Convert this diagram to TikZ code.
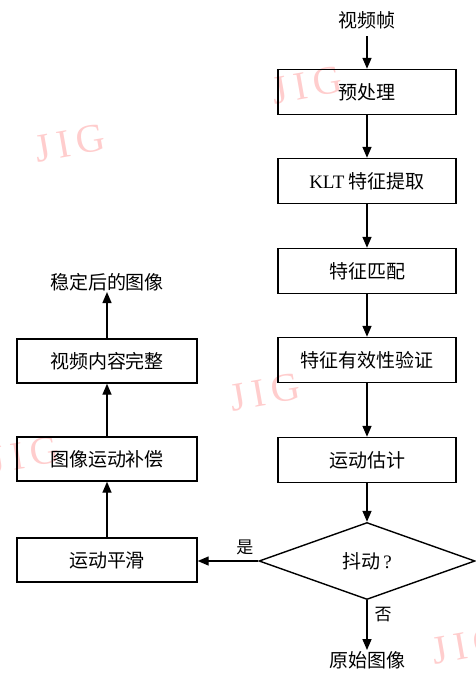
\documentclass[tikz,border=0pt]{standalone}
\usepackage{fontspec}
\setmainfont{Liberation Serif}
\newfontfamily\cjk{Noto Sans CJK SC}
\usetikzlibrary{arrows.meta,shapes.geometric}
\definecolor{wmc}{RGB}{255,205,205}
\begin{document}
\begin{tikzpicture}[x=1pt,y=-1pt,
  box/.style={draw, line width=1.4pt, minimum width=178pt, minimum height=45pt, inner sep=0pt, font=\fontsize{19}{19}\selectfont\cjk},
  lbox/.style={box, minimum width=180pt, minimum height=44pt},
  txt/.style={inner sep=1pt, font=\fontsize{19}{19}\selectfont\cjk},
  lab/.style={inner sep=1pt, font=\fontsize{17}{17}\selectfont\cjk},
  arr/.style={line width=1.4pt, -{Triangle[length=11pt,width=9pt]}},
  wm/.style={text=wmc, rotate=10, inner sep=0pt, font=\fontsize{40}{40}\selectfont}]
\useasboundingbox (0,0) rectangle (475,673);
% watermarks
\node[wm] (w1) at (70,143) {J\,I\,G};
\node[wm] (w2) at (307,85) {J\,I\,G};
\node[wm] (w3) at (265,392) {J\,I\,G};
\node[wm] (w4) at (24,455) {J\,I\,G};
\node[wm] (w5) at (467,645) {J\,I\,G};
% right column
\node[txt] (t0) at (367,20) {视频帧};
\node[box] (b1) at (367,92) {预处理};
\node[box] (b2) at (367,181) {{\rmfamily KLT} 特征提取};
\node[box] (b3) at (367,271) {特征匹配};
\node[box] (b4) at (367,360) {特征有效性验证};
\node[box] (b5) at (367,460) {运动估计};
\node[draw, line width=1.4pt, diamond, minimum width=216pt, minimum height=77pt, aspect=2.8, inner sep=0pt, font=\fontsize{19}{19}\selectfont\cjk] (d) at (367,561) {抖动{\rmfamily\,?}};
\node[txt] (t1) at (367,660) {原始图像};
% left column
\node[lbox] (l3) at (107,560) {运动平滑};
\node[lbox] (l2) at (107,459) {图像运动补偿};
\node[lbox] (l1) at (107,361) {视频内容完整};
\node[txt] (t2) at (107,282) {稳定后的图像};
% connectors
\draw[arr] (t0.south |- 0,36) -- (b1.north);
\draw[arr] (b1) -- (b2);
\draw[arr] (b2) -- (b3);
\draw[arr] (b3) -- (b4);
\draw[arr] (b4) -- (b5);
\draw[arr] (b5.south) -- (d.north);
\draw[arr] (d.south) -- node[lab, pos=0.28, right=6pt] {否} (t1.north);
\draw[arr] (d.west) -- node[lab, pos=0.22, above=4pt] {是} (d.west -| l3.east);
\draw[arr] (l3) -- (l2);
\draw[arr] (l2) -- (l1);
\draw[arr] (l1.north) -- (t2.south);
\end{tikzpicture}
\end{document}
